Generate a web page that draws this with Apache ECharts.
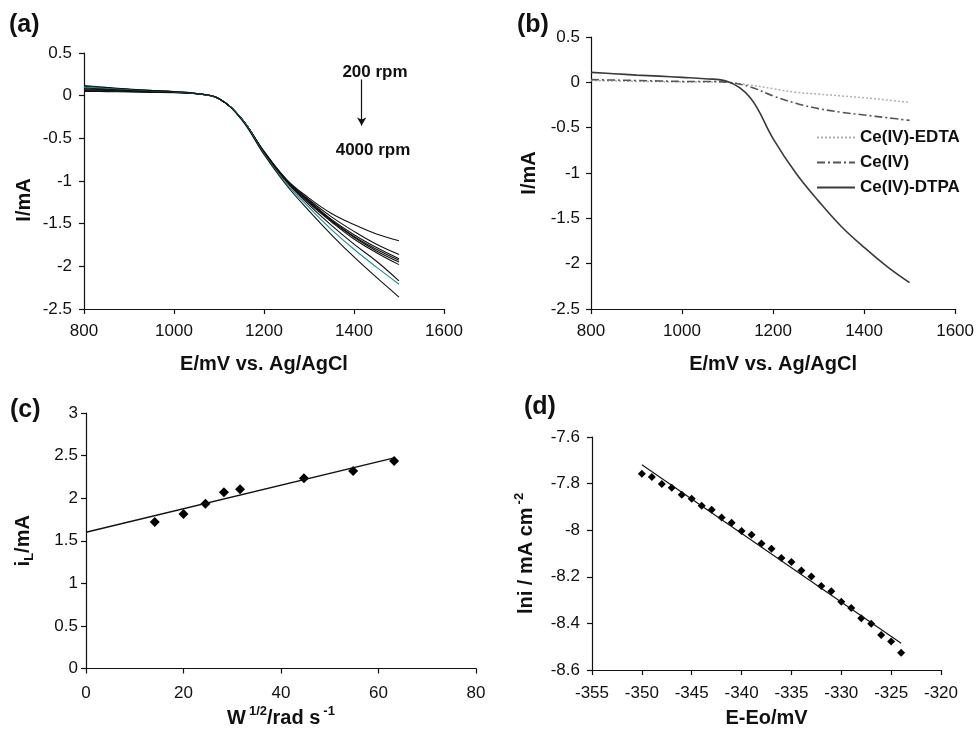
<!DOCTYPE html>
<html>

<head>
    <meta charset="UTF-8" />
    <script src="https://cdn.jsdelivr.net/npm/echarts@6/dist/echarts.min.js"></script>
</head>

<body style="margin: 0; overflow: hidden; background: #fff;">
    <div id="chart" style="width: 977px; height: 729px;"></div>
    <script type="text/javascript">

        // (a) rotating disk curves, 200 rpm .. 4000 rpm
        const potA = [800, 850, 900, 950, 1000, 1050, 1100, 1150, 1200, 1250, 1300, 1350, 1400, 1450, 1500];
        const curvesA = [
            [0.05, 0.047, 0.043, 0.039, 0.035, 0.022, -0.035, -0.27, -0.65, -0.98, -1.20, -1.38, -1.51, -1.62, -1.70],
            [0.06, 0.055, 0.049, 0.043, 0.037, 0.022, -0.035, -0.27, -0.66, -0.99, -1.22, -1.42, -1.59, -1.74, -1.86],
            [0.07, 0.062, 0.054, 0.046, 0.039, 0.023, -0.035, -0.27, -0.66, -0.99, -1.23, -1.45, -1.63, -1.78, -1.91],
            [0.08, 0.069, 0.059, 0.049, 0.040, 0.023, -0.035, -0.27, -0.66, -0.99, -1.24, -1.46, -1.65, -1.80, -1.93],
            [0.09, 0.076, 0.064, 0.052, 0.042, 0.024, -0.035, -0.27, -0.66, -1.00, -1.25, -1.47, -1.66, -1.82, -1.95],
            [0.10, 0.083, 0.069, 0.056, 0.044, 0.025, -0.035, -0.27, -0.66, -1.00, -1.26, -1.48, -1.68, -1.84, -1.98],
            [0.11, 0.09, 0.074, 0.059, 0.046, 0.025, -0.035, -0.27, -0.67, -1.01, -1.28, -1.52, -1.74, -1.94, -2.17],
            [0.10, 0.088, 0.074, 0.059, 0.046, 0.025, -0.035, -0.27, -0.68, -1.03, -1.31, -1.57, -1.80, -2.01, -2.21],
            [0.12, 0.097, 0.078, 0.062, 0.048, 0.026, -0.035, -0.28, -0.69, -1.05, -1.35, -1.63, -1.89, -2.13, -2.36]
        ];
        const curveColorsA = ['#111', '#111', '#111', '#111', '#111', '#111', '#111', '#1a8f8f', '#111'];

        // (b) comparison of complexes
        const potB = [800, 850, 900, 950, 1000, 1050, 1100, 1150, 1200, 1250, 1300, 1350, 1400, 1450, 1500];
        const edta = [0.02, 0.015, 0.01, 0.008, 0.005, 0.005, 0.0, -0.03, -0.07, -0.11, -0.13, -0.15, -0.17, -0.195, -0.22];
        const ce4 = [0.03, 0.025, 0.02, 0.015, 0.01, 0.01, 0.0, -0.05, -0.15, -0.23, -0.29, -0.33, -0.36, -0.39, -0.42];
        const dtpa = [0.11, 0.095, 0.08, 0.068, 0.055, 0.04, 0.01, -0.17, -0.62, -1.00, -1.31, -1.59, -1.82, -2.03, -2.21];

        // (c) Levich plot
        const sqrtW = [14.1, 20.0, 24.5, 28.3, 31.6, 44.7, 54.8, 63.2];
        const iLim = [1.72, 1.815, 1.935, 2.07, 2.105, 2.235, 2.32, 2.437];
        const levichFit = [[0, 1.60], [63, 2.47]];

        // (d) Tafel plot
        const overPot = [-350, -349, -348, -347, -346, -345, -344, -343, -342, -341, -340, -339, -338, -337,
            -336, -335, -334, -333, -332, -331, -330, -329, -328, -327, -326, -325, -324];
        const lnI = [-7.758, -7.772, -7.802, -7.818, -7.848, -7.865, -7.895, -7.912, -7.945, -7.968, -8.003, -8.019,
            -8.057, -8.080, -8.119, -8.136, -8.173, -8.199, -8.239, -8.262, -8.307, -8.334, -8.378, -8.401,
            -8.450, -8.478, -8.526];
        const tafelFit = [[-350, -7.719], [-324, -8.485]];

        const zip = (xs, ys) => xs.map((x, i) => [x, ys[i]]);

        const FONT = 'Liberation Sans, Arial, sans-serif';
        const tickLabel = { color: '#111', fontSize: 17, fontFamily: FONT, formatter: v => String(+v.toFixed(2)) };
        const axisLine = { onZero: false, lineStyle: { color: '#111', width: 1.2 } };
        const axisTick = { inside: false, length: 5, lineStyle: { color: '#111', width: 1.2 } };
        const nameStyle = {
            color: '#111', fontSize: 20, fontWeight: 'bold', fontFamily: FONT,
            rich: {
                sup: { fontSize: 13, fontWeight: 'bold', fontFamily: FONT, color: '#111', padding: [0, 0, 14, 3] },
                sub: { fontSize: 13, fontWeight: 'bold', fontFamily: FONT, color: '#111', padding: [12, 0, 0, 0] }
            }
        };

        function xAx(grid, min, max, interval, name, gap, margin) {
            return {
                type: 'value', gridIndex: grid, min: min, max: max, interval: interval,
                name: name, nameLocation: 'middle', nameGap: gap, nameTextStyle: nameStyle,
                axisLine: axisLine, axisTick: axisTick, splitLine: { show: false },
                axisLabel: Object.assign({ margin: margin }, tickLabel)
            };
        }
        function yAx(grid, min, max, interval, name, gap, margin, pad) {
            return {
                type: 'value', gridIndex: grid, min: min, max: max, interval: interval,
                name: name, nameLocation: 'middle', nameGap: gap,
                nameTextStyle: Object.assign({}, nameStyle, { padding: pad || 0 }),
                axisLine: Object.assign({ show: true }, axisLine), axisTick: Object.assign({ show: true }, axisTick),
                splitLine: { show: false },
                axisLabel: Object.assign({ margin: margin }, tickLabel)
            };
        }

        const series = [];
        curvesA.forEach((c, i) => {
            series.push({
                type: 'line', xAxisIndex: 0, yAxisIndex: 0, data: zip(potA, c),
                smooth: 0.4, symbol: 'none', lineStyle: { color: curveColorsA[i], width: 1.1 },
                silent: true
            });
        });
        // arrow 200 -> 4000 rpm
        series[0].markLine = {
            silent: true, symbol: ['none', 'arrow'], symbolSize: [7, 8],
            label: { show: false },
            lineStyle: { color: '#111', width: 1.2, type: 'solid' },
            data: [[{ coord: [1417, 0.19] }, { coord: [1417, -0.35] }]]
        };

        series.push({
            name: 'Ce(IV)-EDTA', type: 'line', xAxisIndex: 1, yAxisIndex: 1, data: zip(potB, edta),
            smooth: 0.4, symbol: 'none', lineStyle: { color: '#b0b0b0', width: 1.5, type: [2, 2] }, itemStyle: { color: '#b0b0b0' }
        });
        series.push({
            name: 'Ce(IV)', type: 'line', xAxisIndex: 1, yAxisIndex: 1, data: zip(potB, ce4),
            smooth: 0.4, symbol: 'none', lineStyle: { color: '#555', width: 1.6, type: [8, 3, 2, 3] }, itemStyle: { color: '#555' }
        });
        series.push({
            name: 'Ce(IV)-DTPA', type: 'line', xAxisIndex: 1, yAxisIndex: 1, data: zip(potB, dtpa),
            smooth: 0.4, symbol: 'none', lineStyle: { color: '#3a3a3a', width: 1.6 }, itemStyle: { color: '#3a3a3a' }
        });

        series.push({
            type: 'line', xAxisIndex: 2, yAxisIndex: 2, data: levichFit, symbol: 'none',
            lineStyle: { color: '#111', width: 1.5 }
        });
        series.push({
            type: 'scatter', xAxisIndex: 2, yAxisIndex: 2, data: zip(sqrtW, iLim), symbol: 'diamond',
            symbolSize: 10, itemStyle: { color: '#000', opacity: 1 }
        });

        series.push({
            type: 'line', xAxisIndex: 3, yAxisIndex: 3, data: tafelFit, symbol: 'none',
            lineStyle: { color: '#111', width: 1.1 }
        });
        series.push({
            type: 'scatter', xAxisIndex: 3, yAxisIndex: 3, data: zip(overPot, lnI), symbol: 'diamond',
            symbolSize: 8, itemStyle: { color: '#000', opacity: 1 }
        });

        const panelLabel = (txt, x, y) => ({
            type: 'text', left: x, top: y,
            style: { text: txt, fontSize: 25, fontWeight: 'bold', fontFamily: FONT, fill: '#111' }
        });
        const note = (txt, x, y) => ({
            type: 'text', x: x, y: y,
            style: { text: txt, fontSize: 17, fontWeight: 'bold', fontFamily: FONT, fill: '#111', align: 'center', verticalAlign: 'middle' }
        });

        const myChart = echarts.init(document.getElementById('chart'), null, { renderer: 'canvas' });
        const option = {
            backgroundColor: '#fff',
            animation: false,
            textStyle: { fontFamily: FONT },
            grid: [
                { left: 84, top: 53, width: 360, height: 256 },
                { left: 591, top: 37, width: 372, height: 272 },
                { left: 86, top: 413, width: 390, height: 257 },
                { left: 592, top: 437, width: 349, height: 233 }
            ],
            xAxis: [
                xAx(0, 800, 1600, 200, 'E/mV vs. Ag/AgCl', 45, 14),
                xAx(1, 800, 1600, 200, 'E/mV vs. Ag/AgCl', 45, 14),
                xAx(2, 0, 80, 20, 'W{sup|1/2}/rad s{sup|-1}', 36, 16),
                xAx(3, -355, -320, 5, 'E-Eo/mV', 38, 15)
            ],
            yAxis: [
                yAx(0, -2.5, 0.5, 0.5, 'I/mA', 50, 12, [0, 38, 0, 0]),
                yAx(1, -2.5, 0.5, 0.5, 'I/mA', 52, 11),
                yAx(2, 0, 3, 0.5, 'i{sub|L}/mA', 50, 8),
                yAx(3, -8.6, -7.6, 0.2, 'lni / mA cm{sup|-2}', 52, 12)
            ],
            legend: {
                data: ['Ce(IV)-EDTA', 'Ce(IV)', 'Ce(IV)-DTPA'],
                orient: 'vertical', left: 816, top: 129, padding: 0,
                itemWidth: 38, itemHeight: 10, itemGap: 8,
                itemStyle: { opacity: 0 },
                textStyle: { color: '#111', fontSize: 17, fontWeight: 'bold', fontFamily: FONT, lineHeight: 17 }
            },
            graphic: [
                panelLabel('(a)', 9, 13),
                panelLabel('(b)', 517, 13),
                panelLabel('(c)', 10, 398),
                panelLabel('(d)', 524, 395),
                note('200 rpm', 375, 72),
                note('4000 rpm', 373, 150)
            ],
            series: series
        };
        myChart.setOption(option);
    </script>
</body>

</html>
